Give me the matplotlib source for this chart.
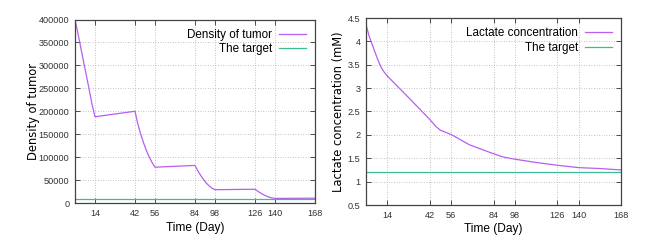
import numpy as np
import matplotlib
matplotlib.use("Agg")
import matplotlib.pyplot as plt
from matplotlib.ticker import FormatStrFormatter

# values (day -> value)
tumor_days = [0, 3, 6, 9, 12, 14, 42, 44, 46, 48, 50, 52, 54, 56, 84, 86, 88, 90, 92, 94, 96, 98,
              126, 128, 130, 132, 134, 136, 138, 140, 168]
tumor_vals = [400000, 355000, 308000, 262000, 214000, 188000, 200000, 172000, 150000, 131000,
              114000, 100000, 88000, 78000, 82000, 70000, 60000, 51000, 43000, 37000, 32000, 29000,
              30000, 25500, 21500, 18000, 15000, 12500, 11000, 10000, 10500]
tumor_target = 8500

lact_days = [0, 2, 4, 6, 8, 10, 12, 14, 28, 42, 46, 49, 52, 56, 68, 82, 90, 98, 112, 126, 140, 154, 168]
lact_vals = [4.36, 4.12, 3.94, 3.76, 3.59, 3.44, 3.34, 3.26, 2.80, 2.33, 2.18, 2.10, 2.06, 2.01,
             1.79, 1.62, 1.53, 1.48, 1.41, 1.35, 1.30, 1.28, 1.25]
lact_target = 1.2

xticks = [14, 42, 56, 84, 98, 126, 140, 168]

PURPLE = "#b65ff0"
TEAL = "#3dba96"

# narrower face for ticks / legend / x label, like the gnuplot output
plt.rcParams['font.family'] = ['Liberation Sans', 'DejaVu Sans']

fig = plt.figure(figsize=(6.46, 2.45), dpi=100)
W, H = 646.0, 245.0
ax1 = fig.add_axes([75 / W, (H - 203) / H, 240 / W, 183.5 / H])
ax2 = fig.add_axes([366 / W, (H - 205) / H, 255 / W, 187 / H])


def style(ax, xlab_y):
    ax.set_xlim(0, 168)
    ax.set_xticks(xticks)
    ax.grid(True, linestyle=(0, (1, 2)), color="#b0b0b0", linewidth=0.6)
    ax.tick_params(direction="in", top=True, right=True, length=3.5, width=0.6,
                   labelsize=6.6, pad=4, colors="#333333")
    for s in ax.spines.values():
        s.set_color("#444444")
        s.set_linewidth(0.9)
    ax.set_xlabel("Time (Day)", fontsize=8.6)
    ax.xaxis.set_label_coords(0.5, xlab_y)


ax1.plot(tumor_days, tumor_vals, color=PURPLE, lw=0.9, label="Density of tumor")
ax1.axhline(tumor_target, color=TEAL, lw=0.9, label="The target")
ax1.set_ylim(0, 400000)
ax1.set_yticks(np.arange(0, 400001, 50000))
style(ax1, -0.105)
ax1.set_ylabel("Density of tumor", fontsize=8.3, family="DejaVu Sans")
ax1.yaxis.set_label_coords(-0.146, 0.5)

ax2.plot(lact_days, lact_vals, color=PURPLE, lw=0.9, label="Lactate concentration")
ax2.axhline(lact_target, color=TEAL, lw=0.9, label="The target")
ax2.set_ylim(0.5, 4.5)
ax2.set_yticks(np.arange(0.5, 4.51, 0.5))
ax2.yaxis.set_major_formatter(FormatStrFormatter("%g"))
style(ax2, -0.095)
ax2.set_ylabel("Lactate concentration (mM)", fontsize=8.3, family="DejaVu Sans")
ax2.yaxis.set_label_coords(-0.082, 0.5)

for ax in (ax1, ax2):
    ax.legend(loc="upper right", frameon=False, markerfirst=False, fontsize=8.4,
              handlelength=2.3, handletextpad=0.6, labelspacing=0.2,
              borderaxespad=0.4)

fig.savefig("out.png", dpi=100)
